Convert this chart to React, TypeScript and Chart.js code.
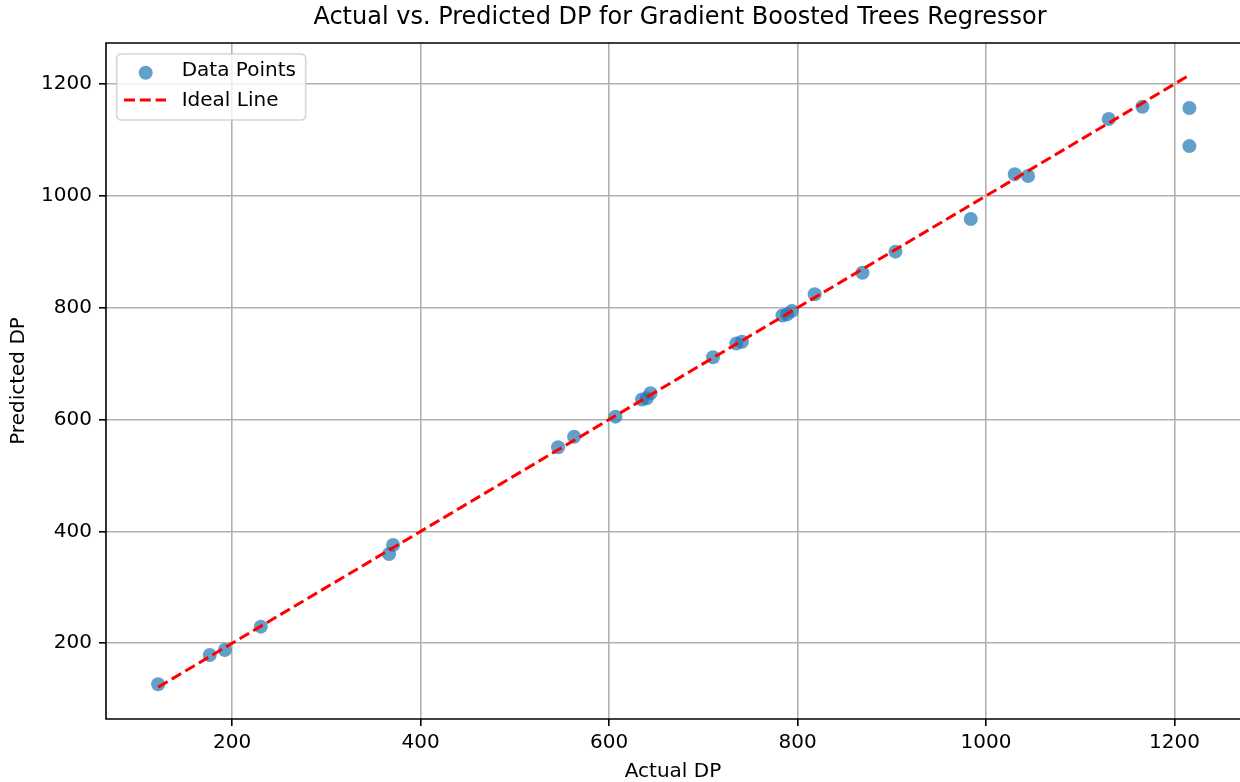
import React, { useEffect, useRef } from "react";
import { Chart, registerables } from "chart.js";

Chart.register(...registerables);

// ---- data ----
const actualDP = [
  121.5, 176.3, 192.3, 230.5, 366.6, 370.8, 545.9, 562.9, 606.8, 635, 640, 644,
  710.3, 735, 741, 784, 789, 794, 818.2, 868.9, 903.9, 983.8, 1030.5, 1044.6,
  1130.2, 1166, 1215.8, 1215.8,
];
const predictedDP = [
  126.7, 179.1, 188, 229.7, 359.7, 375.8, 550.4, 569.4, 605.2, 636, 638, 647,
  711.4, 736, 739, 786, 788, 794, 824, 862.6, 900.2, 958.6, 1038.5, 1035.5,
  1137.4, 1159.4, 1157, 1089,
];
const idealX = [121.5, 1215.8];
const idealY = [121.5, 1215.8];
const xTicks = [200, 400, 600, 800, 1000, 1200];
const yTicks = [200, 400, 600, 800, 1000, 1200];
const seriesLabels = ["Data Points", "Ideal Line"];
const titleText = "Actual vs. Predicted DP for Gradient Boosted Trees Regressor";
const xLabel = "Actual DP";
const yLabel = "Predicted DP";

const FONT = "'DejaVu Sans', 'Liberation Sans', sans-serif";
const POINT_COLOR = "rgba(31,119,180,0.7)";
const LINE_COLOR = "#ff0000";
const LINE_DASH = [11, 4.8];

const titlePlugin = {
  id: "mplTitle",
  afterDraw(chart: any) {
    const { ctx, chartArea: a } = chart;
    ctx.save();
    ctx.fillStyle = "#000";
    ctx.font = `24px ${FONT}`;
    ctx.textAlign = "center";
    ctx.textBaseline = "middle";
    ctx.fillText(titleText, (a.left + a.right) / 2 + 7, 17.5);
    ctx.restore();
  },
};

const framePlugin = {
  id: "mplFrame",
  afterDatasetsDraw(chart: any) {
    const { ctx, chartArea: a } = chart;
    ctx.save();
    ctx.strokeStyle = "#000";
    ctx.lineWidth = 1.6;
    ctx.beginPath();
    ctx.moveTo(a.right + 2, a.top);
    ctx.lineTo(a.left, a.top);
    ctx.lineTo(a.left, a.bottom);
    ctx.lineTo(a.right + 2, a.bottom);
    ctx.stroke();
    ctx.restore();
  },
};

const legendPlugin = {
  id: "mplLegend",
  afterDraw(chart: any) {
    const { ctx, chartArea: a } = chart;
    const ds = chart.data.datasets;
    const x0 = a.left + 10.7;
    const y0 = a.top + 11;
    const w = 189;
    const h = 66;
    const r = 5;
    ctx.save();
    ctx.beginPath();
    ctx.moveTo(x0 + r, y0);
    ctx.lineTo(x0 + w - r, y0);
    ctx.quadraticCurveTo(x0 + w, y0, x0 + w, y0 + r);
    ctx.lineTo(x0 + w, y0 + h - r);
    ctx.quadraticCurveTo(x0 + w, y0 + h, x0 + w - r, y0 + h);
    ctx.lineTo(x0 + r, y0 + h);
    ctx.quadraticCurveTo(x0, y0 + h, x0, y0 + h - r);
    ctx.lineTo(x0, y0 + r);
    ctx.quadraticCurveTo(x0, y0, x0 + r, y0);
    ctx.closePath();
    ctx.fillStyle = "rgba(255,255,255,0.8)";
    ctx.fill();
    ctx.strokeStyle = "rgba(204,204,204,0.8)";
    ctx.lineWidth = 1.6;
    ctx.stroke();

    // entry 1: marker
    ctx.beginPath();
    ctx.arc(x0 + 29, y0 + 18.7, 7, 0, Math.PI * 2);
    ctx.fillStyle = ds[0].backgroundColor;
    ctx.fill();
    // entry 2: dashed line
    ctx.beginPath();
    ctx.setLineDash(LINE_DASH);
    ctx.moveTo(x0 + 7.3, y0 + 46);
    ctx.lineTo(x0 + 49.3, y0 + 46);
    ctx.strokeStyle = ds[1].borderColor;
    ctx.lineWidth = 3;
    ctx.stroke();
    ctx.setLineDash([]);

    ctx.fillStyle = "#000";
    ctx.font = `20px ${FONT}`;
    ctx.textAlign = "left";
    ctx.textBaseline = "middle";
    ctx.fillText(ds[0].label, x0 + 65, 70.8);
    ctx.fillText(ds[1].label, x0 + 65, 100.9);
    ctx.restore();
  },
};

export default function App() {
  const ref = useRef<HTMLCanvasElement | null>(null);

  useEffect(() => {
    if (!ref.current) return;
    const scatterData = actualDP.map((x, i) => ({ x, y: predictedDP[i] }));
    const lineData = idealX.map((x, i) => ({ x, y: idealY[i] }));

    const chart = new Chart(ref.current, {
      type: "scatter",
      data: {
        datasets: [
          {
            label: seriesLabels[0],
            data: scatterData,
            backgroundColor: POINT_COLOR,
            borderColor: POINT_COLOR,
            borderWidth: 0,
            pointRadius: 7,
            order: 1,
          },
          {
            label: seriesLabels[1],
            data: lineData,
            showLine: true,
            borderColor: LINE_COLOR,
            backgroundColor: LINE_COLOR,
            borderWidth: 3,
            borderDash: LINE_DASH,
            pointRadius: 0,
            fill: false,
            order: 0,
          },
        ],
      },
      plugins: [framePlugin, legendPlugin, titlePlugin],
      options: {
        animation: false,
        responsive: false,
        devicePixelRatio: 1,
        layout: { autoPadding: false, padding: { top: 43, left: 0, right: 0, bottom: 0 } },
        plugins: {
          legend: { display: false },
          tooltip: { enabled: false },
          title: { display: false },
        },
        scales: {
          x: {
            type: "linear",
            min: 66.2,
            max: 1269.5,
            afterFit: (s: any) => {
              s.height = 63;
              s.paddingLeft = 0;
              s.paddingRight = 0;
            },
            afterBuildTicks: (s: any) => {
              s.ticks = xTicks.map((v) => ({ value: v }));
            },
            grid: {
              color: "#b0b0b0",
              lineWidth: 1.6,
              tickColor: "#000",
              tickWidth: 1.6,
              tickLength: 7,
            },
            border: { display: false },
            ticks: {
              color: "#000",
              font: { family: FONT, size: 20 },
              padding: 4.5,
              maxRotation: 0,
              autoSkip: false,
              callback: (v: any) => String(v),
            },
            title: {
              display: true,
              text: xLabel,
              color: "#000",
              font: { family: FONT, size: 20, lineHeight: 1 },
              padding: { top: 0, bottom: 0.7 },
            },
          },
          y: {
            type: "linear",
            min: 64.6,
            max: 1273.3,
            afterFit: (s: any) => {
              s.width = 106;
              s.paddingTop = 0;
              s.paddingBottom = 0;
            },
            afterBuildTicks: (s: any) => {
              s.ticks = yTicks.map((v) => ({ value: v }));
            },
            grid: {
              color: "#b0b0b0",
              lineWidth: 1.6,
              tickColor: "#000",
              tickWidth: 1.6,
              tickLength: 7,
            },
            border: { display: false },
            ticks: {
              color: "#000",
              font: { family: FONT, size: 20 },
              padding: 7,
              autoSkip: false,
              callback: (v: any) => String(v),
            },
            title: {
              display: true,
              text: yLabel,
              color: "#000",
              font: { family: FONT, size: 20, lineHeight: 1 },
              padding: { top: 9, bottom: 0 },
            },
          },
        },
      },
    } as any);
    return () => chart.destroy();
  }, []);

  return (
    <div style={{ position: "fixed", left: 0, top: 0, width: 1240, height: 782, background: "#fff" }}>
      <canvas ref={ref} width={1240} height={782} style={{ width: 1240, height: 782, display: "block" }} />
    </div>
  );
}
